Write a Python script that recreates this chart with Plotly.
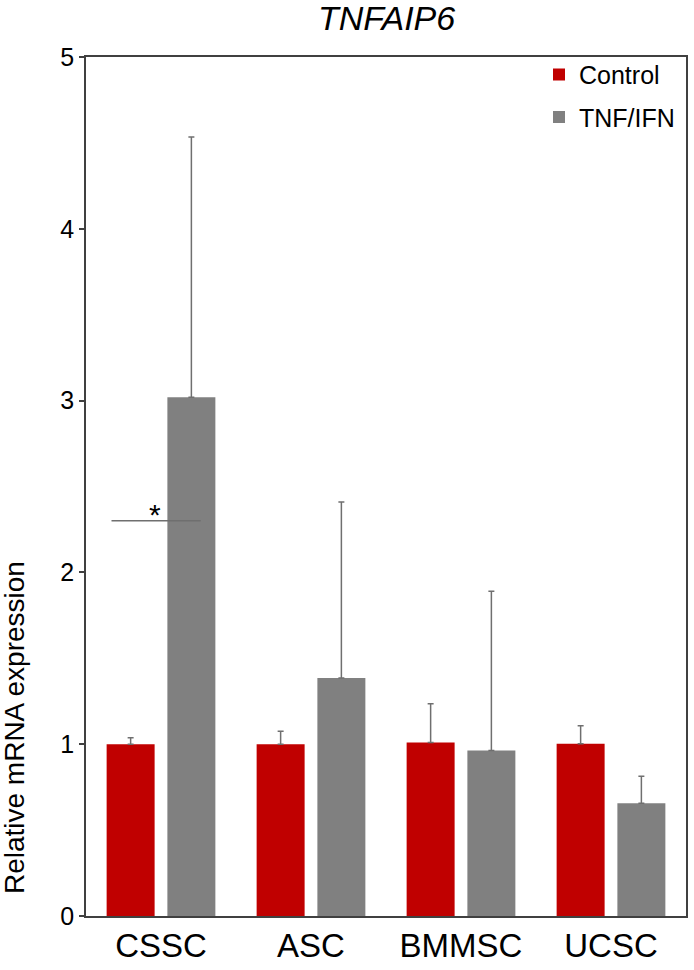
import plotly.graph_objects as go

categories = ['CSSC', 'ASC', 'BMMSC', 'UCSC']
control = [1.0, 1.0, 1.01, 1.003]
control_err = [0.038, 0.075, 0.226, 0.105]
tnf_ifn = [3.02, 1.386, 0.963, 0.657]
tnf_ifn_err = [1.515, 1.024, 0.928, 0.157]

# significance bracket for CSSC (category units / y value)
sig_x = [-0.33, 0.265]
sig_y = 2.30

FONT = 'Arial, Liberation Sans, sans-serif'
err_style = dict(type='data', symmetric=False, arrayminus=[0] * 4,
                 color='#6f6f6f', thickness=1.5, width=3)

fig = go.Figure()
fig.add_trace(go.Bar(
    x=categories, y=control, name='Control',
    marker=dict(color='#C00000', line_width=0),
    error_y=dict(array=control_err, **err_style),
    legendgroup='a'
))
fig.add_trace(go.Bar(
    x=categories, y=tnf_ifn, name='TNF/IFN',
    marker=dict(color='#808080', line_width=0),
    error_y=dict(array=tnf_ifn_err, **err_style),
    legendgroup='b'
))

fig.add_shape(type='line', x0=sig_x[0], x1=sig_x[1], y0=sig_y, y1=sig_y,
              xref='x', yref='y', line=dict(color='#6f6f6f', width=1.5))
fig.add_annotation(x=sum(sig_x) / 2 - 0.007, y=sig_y, text='*', showarrow=False,
                   xref='x', yref='y', yanchor='bottom', yshift=-12,
                   font=dict(family=FONT, size=30, color='black'))

# y axis title sits low on the axis in the original
fig.add_annotation(text='Relative mRNA expression', textangle=-90, showarrow=False,
                   xref='paper', yref='paper', x=-0.118, y=0.219,
                   xanchor='center', yanchor='middle',
                   font=dict(family=FONT, size=28, color='black'))

fig.update_layout(
    width=694, height=970,
    margin=dict(l=86, r=6, t=57, b=51),
    plot_bgcolor='white', paper_bgcolor='white',
    font=dict(family=FONT, color='black'),
    title=dict(text='<i>TNFAIP6</i>', x=0.557, xanchor='center',
               y=0.981, yanchor='middle', yref='container',
               font=dict(family=FONT, size=34, color='black')),
    barmode='group', bargap=0.19, bargroupgap=0.21,
    showlegend=True,
    legend=dict(x=0.755, y=1.006, xanchor='left', yanchor='top',
                font=dict(family=FONT, size=25, color='black'),
                bgcolor='rgba(0,0,0,0)', traceorder='grouped',
                tracegroupgap=7),
)
fig.update_yaxes(range=[0, 5], dtick=1, showgrid=False, zeroline=False,
                 showline=True, linecolor='#404040', linewidth=1.5, mirror=True,
                 ticks='outside', ticklen=5, tickcolor='#404040', tickwidth=1.5,
                 tickfont=dict(family=FONT, size=25, color='black'))
fig.update_xaxes(showgrid=False, showline=True, linecolor='#404040', linewidth=1.5,
                 mirror=True, ticks='', ticklen=0,
                 tickfont=dict(family=FONT, size=33, color='black'))

fig.write_html('out.html', config={'displayModeBar': False},
               post_script="document.body.style.margin='0px';")
